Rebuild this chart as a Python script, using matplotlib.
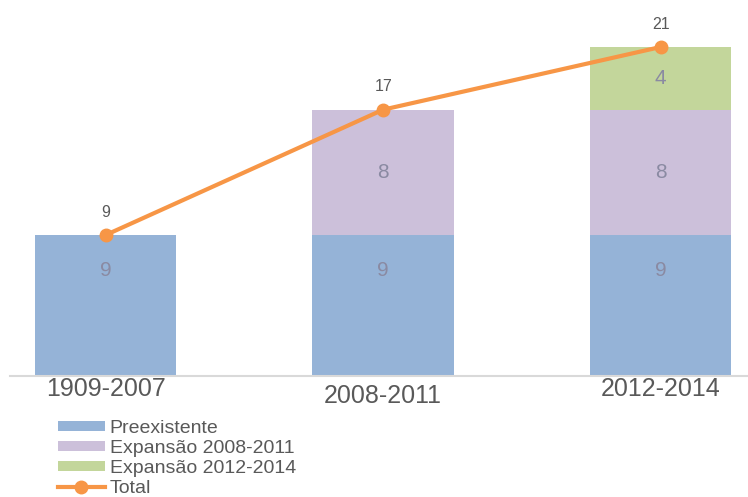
import matplotlib
matplotlib.use("Agg")
import matplotlib.pyplot as plt
import matplotlib.transforms as mtransforms
import numpy as np

plt.rcParams['font.family'] = ['Liberation Sans', 'DejaVu Sans']

periods = ["1909-2007", "2008-2011", "2012-2014"]
preexistente = [9, 9, 9]
expansao_2008_2011 = [0, 8, 8]
expansao_2012_2014 = [0, 0, 4]
total = [9, 17, 21]

# (label, values, colour, relative height of the value label within the segment)
series = [
    ("Preexistente", preexistente, "#95B3D7", 0.75),
    ("Expansão 2008-2011", expansao_2008_2011, "#CCC0DA", 0.5),
    ("Expansão 2012-2014", expansao_2012_2014, "#C3D69B", 0.5),
]

fig = plt.figure(figsize=(7.48, 4.97), dpi=100)
ax = fig.add_axes([10 / 748, (497 - 376) / 497, 738 / 748, 376 / 497])

x = np.arange(len(periods))
bottom = np.zeros(len(periods))
handles = []
for name, vals, color, frac in series:
    vals = np.array(vals, dtype=float)
    bars = ax.bar(x, vals, width=0.51, bottom=bottom, color=color,
                  label=name, zorder=2)
    handles.append(bars)
    for xi, b, v in zip(x, bottom, vals):
        if v > 0:
            ax.text(xi, b + v * frac, f"{v:g}", ha="center", va="center",
                    fontsize=15, color="#8A8AA2", zorder=3)
    bottom += vals

line, = ax.plot(x, total, color="#F79646", lw=3, marker="o", ms=9,
                label="Total", zorder=4)
handles.append(line)
for xi, t in zip(x, total):
    ax.annotate(f"{t}", (xi, t), xytext=(0, 11), textcoords="offset points",
                ha="center", va="bottom", fontsize=11.5, color="#595959")

ax.set_xlim(-0.345, 2.315)
ax.set_ylim(0, 24)
ax.set_yticks([])
ax.set_xticks(x)
ax.set_xticklabels(periods, fontsize=18, color="#595959")
ax.tick_params(axis="x", length=0, pad=1)
for s in ("top", "right", "left"):
    ax.spines[s].set_visible(False)
ax.spines["bottom"].set_color("#D9D9D9")
ax.spines["bottom"].set_linewidth(1.5)

# the middle period label sits a little lower
mid = ax.get_xticklabels()[1]
mid.set_transform(mid.get_transform() +
                  mtransforms.ScaledTranslation(0, -7 / 100, fig.dpi_scale_trans))

fig.legend(handles=handles, labels=[h.get_label() for h in handles],
           loc="upper left", bbox_to_anchor=(58 / 748, 1 - 420 / 497),
           frameon=False, fontsize=14, labelcolor="#595959",
           handlelength=2.4, handleheight=0.45, handletextpad=0.25,
           labelspacing=0.15, borderpad=0, borderaxespad=0)

fig.savefig("out.png", dpi=100)
